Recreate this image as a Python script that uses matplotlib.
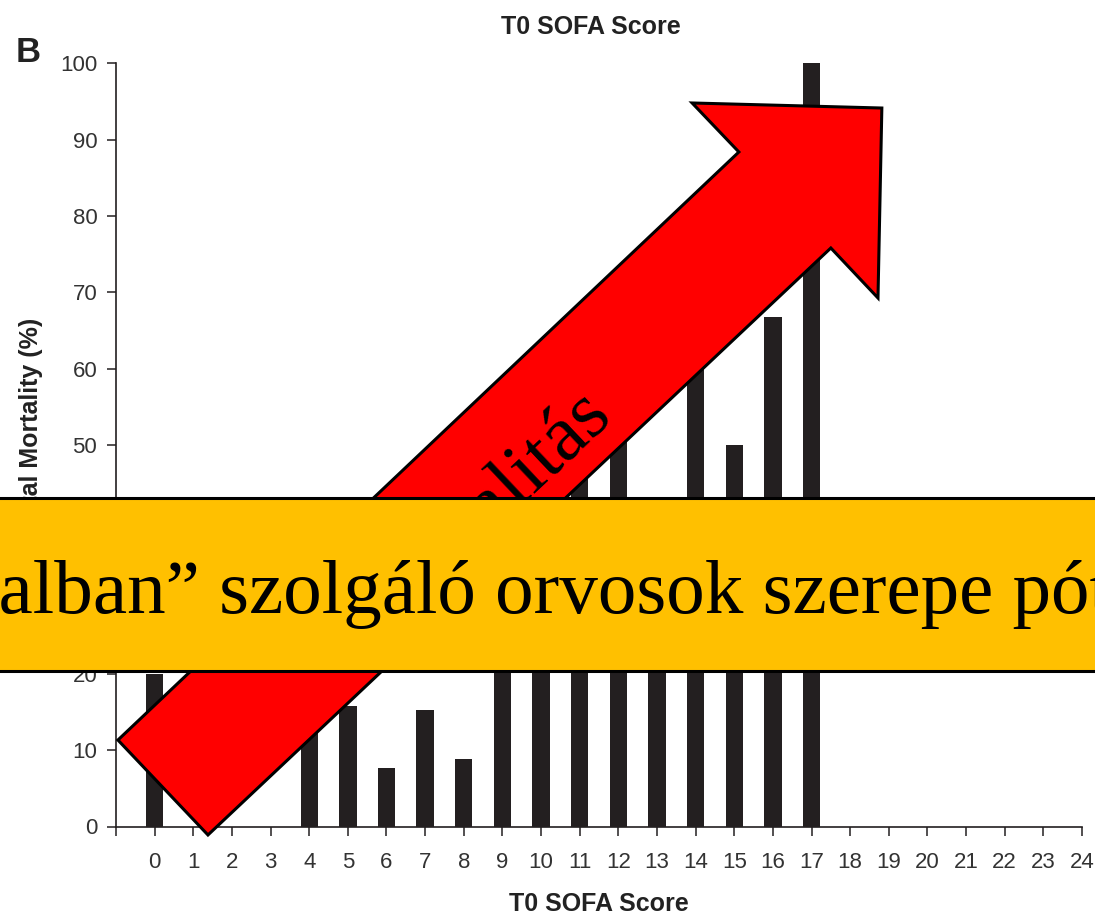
import matplotlib
matplotlib.use("Agg")
import matplotlib.pyplot as plt
from matplotlib.patches import Polygon, Rectangle

# T0 SOFA score vs hospital mortality (%)
scores = list(range(0, 25))
mortality = [20, 0, 0, 0, 15, 15.8, 7.7, 15.2, 8.8, 30, 35, 48, 56, 35, 63,
             50, 66.7, 100, 0, 0, 0, 0, 0, 0, 0]
tick_labels = [str(s) for s in scores]

title = "T0 SOFA Score"
ylabel = "Hospital Mortality (%)"
arrow_text = "Mortalitás"
banner_prefix = "A \u201efrontvon"
banner_rest = "alban\u201d szolgáló orvosok szerepe pótolhatatlan"

dark = "#231f20"
W, H = 1095, 917

fig = plt.figure(figsize=(W / 100, H / 100), dpi=100)
ax = fig.add_axes([116 / W, (H - 826.5) / H, 966 / W, 763.2 / H])

ax.bar(scores, mortality, width=0.45, color=dark, zorder=2)
ax.set_xlim(-1, 24)
ax.set_ylim(0, 100)
ax.set_xticks([-1] + scores)
ax.set_xticklabels([""] + tick_labels)
ax.set_yticks(range(0, 101, 10))

for side in ["top", "right"]:
    ax.spines[side].set_visible(False)
for side in ["left", "bottom"]:
    ax.spines[side].set_color(dark)
    ax.spines[side].set_linewidth(1.2)
ax.tick_params(length=6.5, width=1.1, color=dark, labelsize=16,
               labelcolor="#333333")
ax.tick_params(axis="x", pad=12)
ax.tick_params(axis="y", pad=7)
for lab in ax.get_xticklabels() + ax.get_yticklabels():
    lab.set_family("Liberation Sans")

ax.set_title(title, fontsize=18, fontweight="bold", family="Liberation Sans",
             color="#222222", pad=21, x=0.492)
ax.set_xlabel(title, fontsize=18, fontweight="bold", family="Liberation Sans",
              color="#222222")
ax.xaxis.set_label_coords(0.5, -0.086)
ax.set_ylabel(ylabel, fontsize=18, fontweight="bold", family="Liberation Sans",
              color="#222222")
ax.yaxis.set_label_coords(-0.076, 0.5)

fig.text(16 / W, (H - 62) / H, "B", fontsize=25, fontweight="bold",
         family="Liberation Sans", color="#222222", va="baseline")

# big red arrow overlay (in data coordinates)
arrow_pts = [(-0.95, 11.33), (15.12, 88.38), (13.91, 94.80), (18.82, 94.14),
             (18.72, 69.25), (17.50, 75.80), (1.38, -1.11)]
ax.add_patch(Polygon(arrow_pts, closed=True, facecolor="#ff0000",
                     edgecolor="black", linewidth=2.2, clip_on=False, zorder=5))
ax.text(8.5, 40.8, arrow_text, rotation=43.3, rotation_mode="anchor",
        ha="center", va="center", fontsize=57, family="Liberation Serif",
        color="black", zorder=6, clip_on=False)

# yellow banner across the figure
fig.add_artist(Rectangle((-0.01, (H - 671) / H), 1.02, 173 / H,
                         transform=fig.transFigure, facecolor="#ffc000",
                         edgecolor="black", linewidth=2.2, zorder=10))
renderer = fig.canvas.get_renderer()
tmp = fig.text(0, 0, banner_prefix, fontsize=55.5, family="Liberation Serif")
pre_w = tmp.get_window_extent(renderer).width
tmp.remove()
fig.text((-pre_w - 2) / W, (H - 613) / H, banner_prefix + banner_rest,
         fontsize=55.5, family="Liberation Serif", color="black",
         va="baseline", ha="left", zorder=11)

fig.savefig("out.png", dpi=100)
